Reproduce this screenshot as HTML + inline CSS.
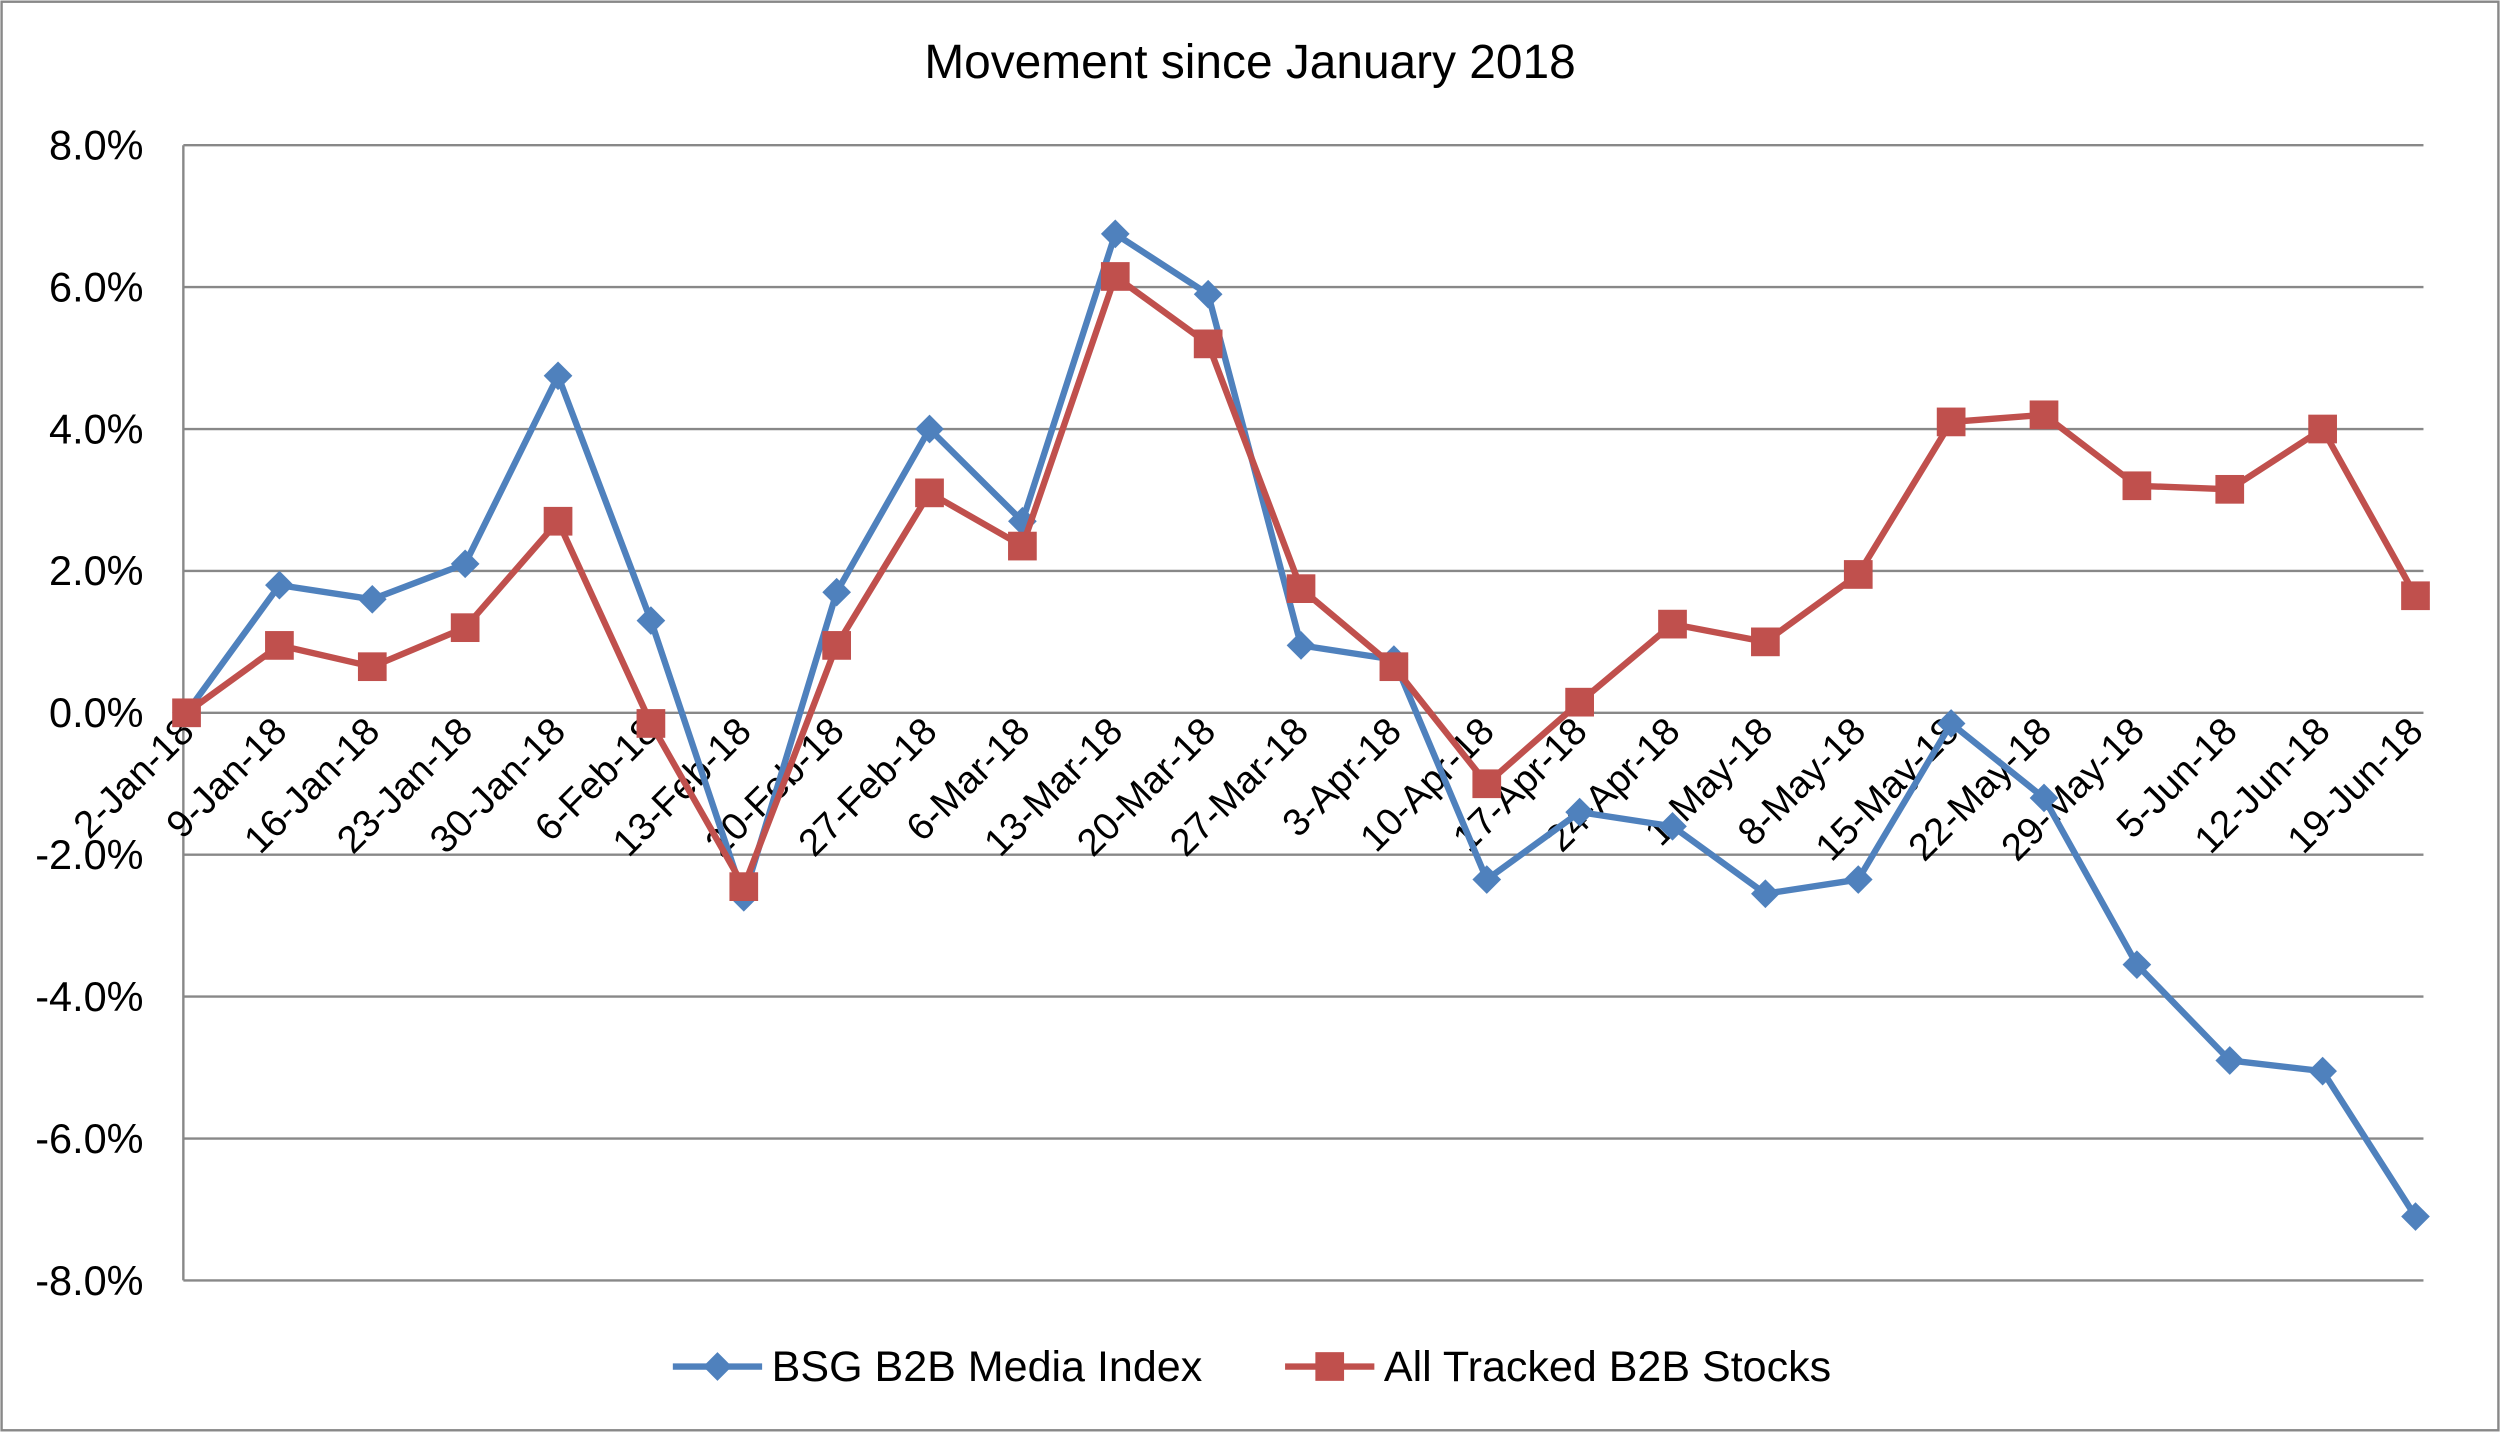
<!DOCTYPE html>
<html><head><meta charset="utf-8"><style>
html,body{margin:0;padding:0;background:#fff}
svg{display:block;font-family:"Liberation Sans",Arial,sans-serif}
</style></head><body>
<svg id="chart" width="2500" height="1432" viewBox="0 0 1568 898" xmlns="http://www.w3.org/2000/svg">
<rect x="1" y="1" width="1566" height="896" fill="#fff" stroke="#888" stroke-width="1.5"/>
<text x="784" y="49" text-anchor="middle" font-size="30" fill="#000">Movement since January 2018</text>
<g id="grid"></g><g id="ylabels"></g><g id="xlabels"></g><g id="series"></g>
<g>
<g>
<line x1="422" y1="857" x2="478" y2="857" stroke="#4F81BD" stroke-width="4"/>
<path d="M450 848 L459 857 L450 866 L441 857 Z" fill="#4F81BD"/>
<text x="484" y="866" font-size="27">BSG B2B Media Index</text></g>
<g>
<line x1="806" y1="857" x2="862" y2="857" stroke="#C0504D" stroke-width="4"/>
<rect x="825" y="848" width="18" height="18" fill="#C0504D"/>
<text x="868" y="866" font-size="27">All Tracked B2B Stocks</text></g>
</g>
</svg>
<script>
const categories=["2-Jan-18","9-Jan-18","16-Jan-18","23-Jan-18","30-Jan-18","6-Feb-18","13-Feb-18","20-Feb-18","27-Feb-18","6-Mar-18","13-Mar-18","20-Mar-18","27-Mar-18","3-Apr-18","10-Apr-18","17-Apr-18","24-Apr-18","1-May-18","8-May-18","15-May-18","22-May-18","29-May-18","5-Jun-18","12-Jun-18","19-Jun-18"];
const bsgValues=[0,1.8,1.6,2.1,4.75,1.3,-2.6,1.7,4.0,2.7,6.75,5.9,0.95,0.75,-2.35,-1.4,-1.6,-2.55,-2.35,-0.15,-1.2,-3.55,-4.9,-5.05,-7.1];
const allValues=[0,0.95,0.65,1.2,2.7,-0.15,-2.45,0.95,3.1,2.35,6.15,5.2,1.75,0.65,-1.0,0.15,1.25,1.0,1.95,4.1,4.2,3.2,3.15,4.0,1.65];
const yTicks=[8,6,4,2,0,-2,-4,-6,-8];
const NS="http://www.w3.org/2000/svg";
const X0=117,X1=1515,PL=115,PR=1520,YT=91,YB=803,YMAX=8,YMIN=-8;
function xs(i){return X0+(X1-X0)*i/(categories.length-1);}
function ys(v){return YT+(YMAX-v)/(YMAX-YMIN)*(YB-YT);}
function mk(t,a,p){const e=document.createElementNS(NS,t);for(const k in a)e.setAttribute(k,a[k]);p.appendChild(e);return e;}
const grid=document.getElementById('grid'),yl=document.getElementById('ylabels'),xl=document.getElementById('xlabels'),ser=document.getElementById('series');
mk('line',{x1:PL,y1:YT,x2:PL,y2:YB,stroke:'#888','stroke-width':1.5},grid);
yTicks.forEach(v=>{
 const l=mk('line',{x1:PL,y1:ys(v),x2:PR,y2:ys(v),stroke:'#888','stroke-width':1.5},grid);
 
 
 const t=mk('text',{x:90,y:ys(v)+9,'text-anchor':'end','font-size':26},yl);
 t.textContent=v.toFixed(1)+'%';
 
 
});
categories.forEach((c,i)=>{
 const x=xs(i)+6,y=ys(0)+13;
 const t=mk('text',{x:x,y:y,'text-anchor':'end','font-size':24,transform:`rotate(-45 ${x} ${y})`},xl);
 t.textContent=c;
 
 
});
function drawSeries(vals,color,kind,name){
 const g=mk('g',{},ser);
 
 
 mk('polyline',{points:vals.map((v,i)=>xs(i)+','+ys(v)).join(' '),fill:'none',stroke:color,'stroke-width':4,'stroke-linejoin':'round'},g);
 vals.forEach((v,i)=>{
  const x=xs(i),y=ys(v);let m;
  if(kind==='diamond')m=mk('path',{d:`M${x} ${y-9} L${x+9} ${y} L${x} ${y+9} L${x-9} ${y} Z`,fill:color},g);
  else m=mk('rect',{x:x-9,y:y-9,width:18,height:18,fill:color},g);
  
  
 });
}
drawSeries(bsgValues,'#4F81BD','diamond','series-bsg-b2b-media-index');
drawSeries(allValues,'#C0504D','square','series-all-tracked-b2b-stocks');
</script>
</body></html>
